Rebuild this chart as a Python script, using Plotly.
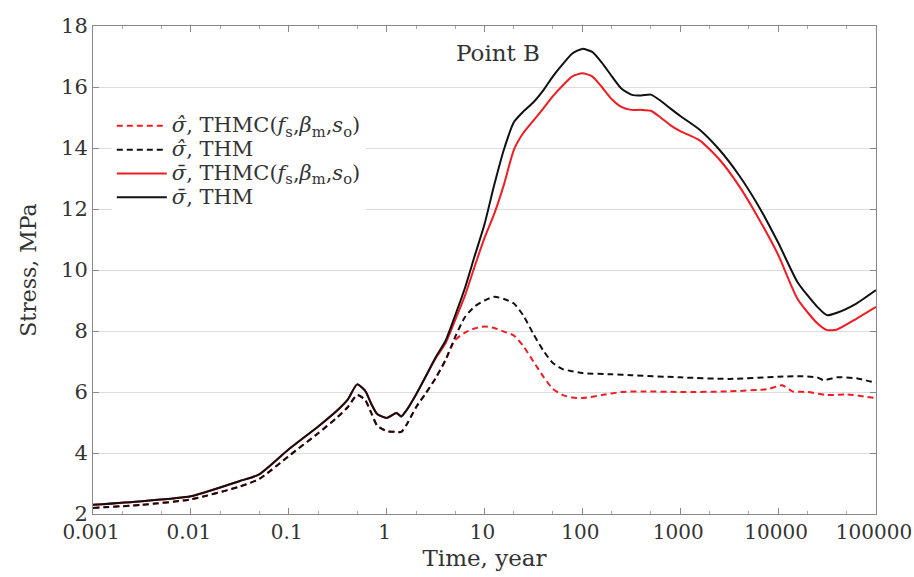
import plotly.graph_objects as go

# ---- data -----------------------------------------------------------------
# Time in years (log axis)
years = [0.001, 0.00316, 0.01, 0.0316, 0.05, 0.1, 0.2, 0.316, 0.4, 0.5,
         0.6, 0.7, 0.8, 1.0, 1.26, 1.41, 1.58, 2.0, 2.5, 3.16,
         4.0, 5.0, 6.3, 7.9, 10, 12.6, 15.8, 20, 25, 31.6,
         40, 50, 63, 79, 100, 126, 158, 200, 250, 316,
         400, 500, 630, 790, 1000, 1580, 2500, 4000, 6300, 10000,
         15800, 25000, 31600, 40000, 63000, 100000]

# sigma-bar (mean stress), THM model
bar_thm = [2.30, 2.42, 2.58, 3.08, 3.30, 4.12, 4.87, 5.41, 5.75, 6.25,
           6.05, 5.60, 5.28, 5.15, 5.31, 5.20, 5.38, 5.92, 6.50, 7.13,
           7.68, 8.50, 9.40, 10.44, 11.50, 12.80, 13.95, 14.85, 15.20, 15.50,
           15.90, 16.35, 16.75, 17.10, 17.25, 17.15, 16.80, 16.35, 15.95, 15.75,
           15.72, 15.75, 15.55, 15.30, 15.05, 14.60, 13.95, 13.10, 12.10, 10.90,
           9.60, 8.80, 8.52, 8.60, 8.90, 9.34]

# sigma-bar (mean stress), THMC(fs, beta_m, so) model
bar_thmc = [2.30, 2.42, 2.58, 3.08, 3.30, 4.12, 4.87, 5.41, 5.75, 6.25,
            6.05, 5.60, 5.28, 5.15, 5.31, 5.20, 5.38, 5.92, 6.50, 7.10,
            7.60, 8.35, 9.15, 10.10, 11.05, 11.85, 12.80, 13.95, 14.50, 14.90,
            15.30, 15.70, 16.05, 16.35, 16.45, 16.35, 16.00, 15.60, 15.35, 15.25,
            15.25, 15.22, 15.00, 14.75, 14.55, 14.25, 13.63, 12.75, 11.70, 10.50,
            9.05, 8.26, 8.03, 8.05, 8.40, 8.79]

# sigma-hat (deviatoric stress), THM model
hat_thm_years = [0.001, 0.00316, 0.01, 0.0316, 0.05, 0.1, 0.2, 0.316, 0.4, 0.5,
                 0.6, 0.7, 0.8, 1.0, 1.26, 1.41, 1.58, 2.0, 2.5, 3.16,
                 4.0, 5.0, 6.3, 7.9, 10, 12.6, 15.8, 20, 25, 31.6,
                 40, 50, 63, 79, 100, 200, 316, 1000, 3160, 10000,
                 15800, 25000, 29000, 40000, 63000, 100000]
hat_thm = [2.20, 2.30, 2.48, 2.90, 3.15, 3.90, 4.65, 5.18, 5.50, 5.90,
           5.75, 5.30, 4.90, 4.72, 4.69, 4.69, 4.90, 5.50, 5.95, 6.45,
           7.05, 7.80, 8.45, 8.80, 9.00, 9.12, 9.05, 8.90, 8.50, 7.90,
           7.35, 6.95, 6.75, 6.68, 6.62, 6.58, 6.55, 6.48, 6.43, 6.50,
           6.52, 6.48, 6.39, 6.48, 6.45, 6.30]

# sigma-hat (deviatoric stress), THMC(fs, beta_m, so) model
hat_thmc_years = [0.001, 0.00316, 0.01, 0.0316, 0.05, 0.1, 0.2, 0.316, 0.4, 0.5,
                  0.6, 0.7, 0.8, 1.0, 1.26, 1.41, 1.58, 2.0, 2.5, 3.16,
                  4.0, 5.0, 6.3, 7.9, 10, 12.6, 15.8, 20, 25, 31.6,
                  40, 50, 63, 79, 100, 158, 250, 400, 1000, 3160,
                  7900, 11000, 14000, 20000, 31600, 50000, 100000]
hat_thmc = [2.20, 2.30, 2.48, 2.90, 3.15, 3.90, 4.65, 5.18, 5.50, 5.90,
            5.75, 5.30, 4.90, 4.72, 4.69, 4.69, 4.90, 5.50, 5.95, 6.45,
            7.05, 7.70, 7.95, 8.08, 8.15, 8.10, 7.98, 7.85, 7.50, 7.00,
            6.50, 6.10, 5.90, 5.82, 5.80, 5.90, 6.00, 6.02, 6.00, 6.02,
            6.10, 6.22, 6.02, 6.00, 5.90, 5.92, 5.80]

x_tickvals = [0.001, 0.01, 0.1, 1, 10, 100, 1000, 10000, 100000]
x_ticktext = ["0.001", "0.01", "0.1", "1", "10", "100", "1000", "10000", "100000"]
y_tickvals = [2, 4, 6, 8, 10, 12, 14, 16, 18]

RED = "#f01c24"
BLACK = "#111111"
DASH = "6px,4px"
SERIF = "DejaVu Serif"
TEXT = "#333333"


def legend_name(symbol, model):
    """Legend entry: sigma with an accent, then the model name."""
    return '<span style="font-size:21px"><i>σ' + symbol + '</i>, ' + model + '</span>'


THMC = "THMC(<i>f</i><sub>s</sub>,<i>β</i><sub>m</sub>,<i>s</i><sub>o</sub>)"
HAT = "\u0302"
BAR = "\u0304"

# ---- figure ---------------------------------------------------------------
fig = go.Figure()
fig.add_trace(go.Scatter(x=hat_thmc_years, y=hat_thmc, mode="lines",
                         name=legend_name(HAT, THMC),
                         line=dict(color=RED, width=2, dash=DASH)))
fig.add_trace(go.Scatter(x=hat_thm_years, y=hat_thm, mode="lines",
                         name=legend_name(HAT, "THM"),
                         line=dict(color=BLACK, width=2, dash=DASH)))
fig.add_trace(go.Scatter(x=years, y=bar_thmc, mode="lines",
                         name=legend_name(BAR, THMC),
                         line=dict(color=RED, width=2)))
fig.add_trace(go.Scatter(x=years, y=bar_thm, mode="lines",
                         name=legend_name(BAR, "THM"),
                         line=dict(color=BLACK, width=2)))

fig.update_traces(line_shape="spline", line_smoothing=0.6)

fig.add_annotation(text="Point B", xref="paper", yref="paper",
                   x=0.517, y=0.945, xanchor="center", yanchor="middle",
                   showarrow=False,
                   font=dict(family=SERIF, size=23, color=TEXT))

fig.update_layout(
    width=914, height=577,
    margin=dict(l=93, r=38, t=26, b=63, autoexpand=False),
    paper_bgcolor="white", plot_bgcolor="white",
    font=dict(family=SERIF, size=21, color=TEXT),
    showlegend=True,
    legend=dict(x=0.024, y=0.83, xanchor="left", yanchor="top",
                bgcolor="white", borderwidth=0,
                font=dict(family=SERIF, size=16, color=TEXT),
                tracegroupgap=0, itemwidth=50),
)

fig.update_xaxes(
    type="log", range=[-3, 5], automargin=False,
    tickvals=x_tickvals, ticktext=x_ticktext,
    ticklabeloverflow="allow", ticklabelshift=-2,
    ticks="inside", ticklen=6, tickcolor="#888",
    showline=True, linecolor="#888", linewidth=1, mirror="allticks",
    showgrid=False, zeroline=False,
    minor=dict(ticks="inside", ticklen=3, tickcolor="#aaa", showgrid=False),
    title=dict(text="Time, year", standoff=6, font=dict(size=23)),
    tickfont=dict(size=20),
)
fig.update_yaxes(
    range=[2, 18], tickvals=y_tickvals, automargin=False,
    ticks="inside", ticklen=6, tickcolor="#888",
    showline=True, linecolor="#888", linewidth=1, mirror="allticks",
    showgrid=True, gridcolor="#dcdcdc", gridwidth=1, zeroline=False,
    title=dict(text="Stress, MPa", standoff=18, font=dict(size=22)),
    tickfont=dict(size=21),
)

fig.write_html("out.html")
